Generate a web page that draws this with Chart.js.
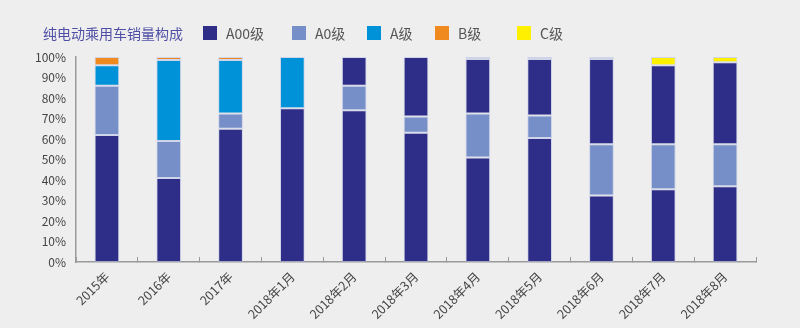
<!DOCTYPE html>
<html>
<head>
<meta charset="utf-8">
<script src="https://cdn.jsdelivr.net/npm/chart.js@4/dist/chart.umd.min.js"></script>
<style>
  html, body { margin: 0; padding: 0; background: #eeeeee; }
  #wrap { position: relative; width: 800px; height: 328px; }
  #head { position: absolute; left: 0; top: 0; width: 800px; height: 50px;
          font-family: "Noto Sans CJK SC", "Noto Sans", sans-serif; }
  #title { position: absolute; left: 43px; top: 22px; font-size: 14px; color: #4f4fa6; white-space: nowrap; line-height: 22px; }
  .item { position: absolute; top: 22px; height: 22px; line-height: 22px; font-size: 14px; color: #555; white-space: nowrap; }
  .item i { position: absolute; left: 0; top: 4px; width: 14px; height: 14px; }
  .item span { position: absolute; left: 23px; top: 0; }
</style>
</head>
<body>
<div id="wrap">
  <canvas id="chart" width="800" height="328"></canvas>
  <div id="head"><div id="title">纯电动乘用车销量构成</div></div>
</div>
<script>
// categories
const labels = ['2015年', '2016年', '2017年', '2018年1月', '2018年2月', '2018年3月',
                '2018年4月', '2018年5月', '2018年6月', '2018年7月', '2018年8月'];

// series (share in %)
const seriesNames = ['A00级', 'A0级', 'A级', 'B级', 'C级'];
const a00 = [62, 41, 65, 75, 74, 63, 51, 60.5, 32.5, 35.5, 37];
const a0  = [24, 18, 7.5, 0, 12, 8, 21.5, 11, 25, 22, 20.5];
const aCls = [10, 39.5, 26, 25, 14, 29, 26.5, 27.5, 41.5, 38.5, 40];
const bCls = [4, 1.5, 1.5, 0, 0, 0, 0, 0, 0, 0, 0];
const cCls = [0, 0, 0, 0, 0, 0, 1, 1, 1, 4, 2.5];

const yTicks = [0, 10, 20, 30, 40, 50, 60, 70, 80, 90, 100];

const colors = ['#2e2e88', '#768fc8', '#0092d8', '#f0891e', '#fff000'];
const legendX = [203, 292, 367, 435, 517];

// in the source picture the A级 part of the 2018 months is drawn in the A00 colour
const aColors = labels.map((l, i) => i < 4 ? colors[2] : colors[0]);

// legend (HTML, next to the title)
const head = document.getElementById('head');
seriesNames.forEach((name, i) => {
  const d = document.createElement('div');
  d.className = 'item';
  d.style.left = legendX[i] + 'px';
  d.innerHTML = `<i style="background:${colors[i]}"></i><span>${name}</span>`;
  head.appendChild(d);
});

const allData = [a00, a0, aCls, bCls, cCls];
const datasets = allData.map((data, i) => ({
  label: seriesNames[i],
  data,
  backgroundColor: i === 2 ? aColors : colors[i],
  borderColor: 'rgba(170,180,225,0.45)',
  borderWidth: 1,
  borderSkipped: false,
  barPercentage: 0.4,
  categoryPercentage: 1
}));

const font = { family: '"Noto Sans CJK SC", "Noto Sans", sans-serif', size: 12.5 };

new Chart(document.getElementById('chart'), {
  type: 'bar',
  data: { labels, datasets },
  options: {
    responsive: false,
    animation: false,
    layout: { padding: { top: 57, left: 0, right: 44, bottom: 0 } },
    plugins: {
      legend: { display: false },
      title: { display: false },
      tooltip: { enabled: false }
    },
    scales: {
      x: {
        stacked: true,
        grid: { offset: true, drawOnChartArea: false, drawTicks: true, tickLength: -5, color: '#9a9a9a', lineWidth: 1 },
        border: { display: true, color: '#9a9a9a', width: 1.5 },
        ticks: { color: '#444', font, minRotation: 45, maxRotation: 45, padding: 12, autoSkip: false },
        afterFit(scale) { scale.height = 66; }
      },
      y: {
        stacked: true,
        min: 0,
        max: 100,
        afterBuildTicks(scale) { scale.ticks = yTicks.map(v => ({ value: v })); },
        grid: { display: false },
        border: { display: true, color: '#9a9a9a', width: 1.5 },
        ticks: { color: '#444', font: { ...font, size: 12 }, padding: 2, callback: v => v + '%' },
        afterFit(scale) { scale.width = 76; }
      }
    }
  }
});
</script>
</body>
</html>
